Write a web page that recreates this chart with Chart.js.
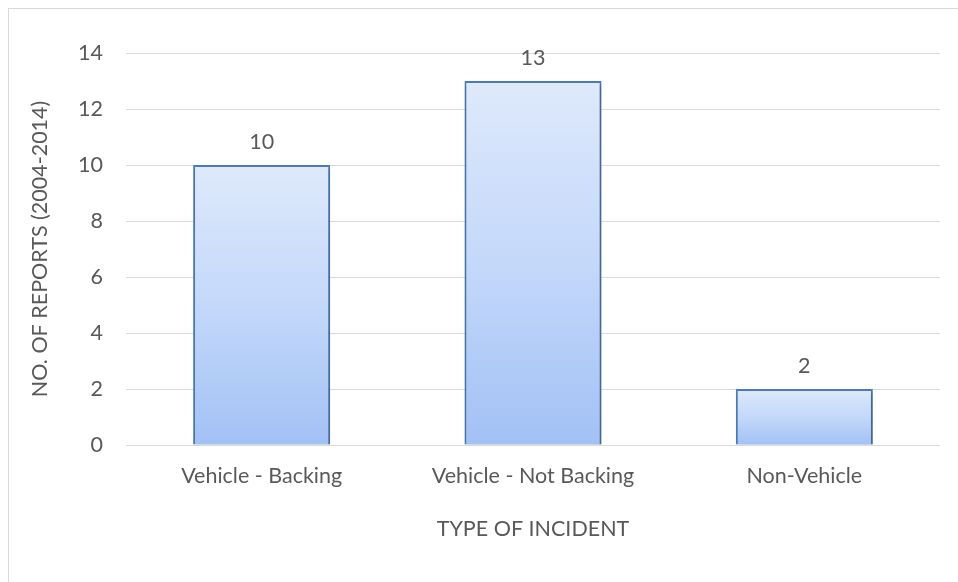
<!DOCTYPE html>
<html>
<head>
<meta charset="utf-8">
<script src="https://cdn.jsdelivr.net/npm/chart.js@4.4.1/dist/chart.umd.min.js"></script>
<style>
  html, body { margin: 0; padding: 0; background: #ffffff; }
  #wrap { position: relative; width: 958px; height: 582px; overflow: hidden; }
  #frame { position: absolute; left: 8px; top: 8px; width: 1000px; height: 1000px; border: 1px solid #d9d9d9; box-sizing: border-box; }
  #c { position: absolute; left: 0; top: 0; }
</style>
</head>
<body>
<div id="wrap">
  <div id="frame"></div>
  <canvas id="c" width="958" height="582"></canvas>
</div>
<script>
const categories = ["Vehicle - Backing", "Vehicle - Not Backing", "Non-Vehicle"];
const reports = [10, 13, 2];
const yTicks = [0, 2, 4, 6, 8, 10, 12, 14];
const xTitle = "TYPE OF INCIDENT";
const yTitle = "NO. OF REPORTS (2004-2014)";

const FONT = "Lato, 'Open Sans', sans-serif";
const FS = 21.5;
const TXT = "#595959";

function barGradient(context) {
  const chart = context.chart;
  const { ctx, chartArea, scales } = chart;
  if (!chartArea) return "#c5d8f8";
  const v = context.raw;
  const top = scales.y.getPixelForValue(v);
  const bot = scales.y.getPixelForValue(0);
  const g = ctx.createLinearGradient(0, top, 0, bot);
  g.addColorStop(0, "#dee9fb");
  g.addColorStop(0.5, "#c4d8fa");
  g.addColorStop(1, "#a2c1f5");
  return g;
}

const shadowPlugin = {
  id: "barShadow",
  beforeDatasetsDraw(chart) {
    const c = chart.ctx;
    c.save();
    c.shadowColor = "rgba(0,0,0,0.28)";
    c.shadowBlur = 4;
    c.shadowOffsetX = 1;
    c.shadowOffsetY = 2;
  },
  afterDatasetsDraw(chart) {
    chart.ctx.restore();
  }
};

const labelPlugin = {
  id: "valueLabels",
  afterDatasetsDraw(chart) {
    const c = chart.ctx;
    const meta = chart.getDatasetMeta(0);
    c.save();
    c.font = FS + "px " + FONT;
    c.fillStyle = TXT;
    c.textAlign = "center";
    c.textBaseline = "middle";
    meta.data.forEach((el, i) => {
      c.fillText(String(reports[i]), el.x, el.y - 23);
    });
    c.restore();
  }
};

new Chart(document.getElementById("c"), {
  type: "bar",
  data: {
    labels: categories,
    datasets: [{
      data: reports,
      backgroundColor: barGradient,
      borderColor: "#4a7ebb",
      borderWidth: 2,
      categoryPercentage: 1,
      barPercentage: 0.505
    }]
  },
  options: {
    responsive: false,
    animation: false,
    devicePixelRatio: 1,
    layout: { padding: { top: 53, right: 18, bottom: 0, left: 0 } },
    plugins: { legend: { display: false }, tooltip: { enabled: false } },
    scales: {
      x: {
        grid: { display: false, drawTicks: false },
        border: { display: false },
        ticks: { color: TXT, font: { family: FONT, size: FS }, padding: 18 },
        title: { display: true, text: xTitle, color: TXT, font: { family: FONT, size: FS }, padding: { top: 10, bottom: 40 } },
        afterFit(s) { s.height = 137; }
      },
      y: {
        min: 0, max: 14,
        afterBuildTicks(s) { s.ticks = yTicks.map(v => ({ value: v })); },
        grid: { color: "#d9d9d9", lineWidth: 1, drawTicks: false },
        border: { display: false },
        ticks: { color: TXT, font: { family: FONT, size: FS }, padding: 23 },
        title: { display: true, text: yTitle, color: TXT, font: { family: FONT, size: FS }, padding: { top: 27, bottom: 0 } },
        afterFit(s) { s.width = 126; }
      }
    }
  },
  plugins: [shadowPlugin, labelPlugin]
});
</script>
</body>
</html>
